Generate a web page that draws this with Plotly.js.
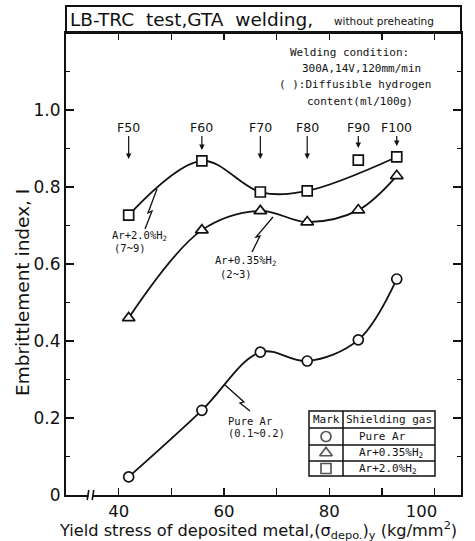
<!DOCTYPE html>
<html>
<head>
<meta charset="utf-8">
<script src="https://cdn.plot.ly/plotly-3.0.1.min.js"></script>
<style>html,body{margin:0;padding:0;background:#fff;}#chart{width:475px;height:541px;}</style>
</head>
<body>
<div id="chart"></div>
<script>
// ---- data ----
const gradeLabels = ["F50", "F60", "F70", "F80", "F90", "F100"];
const yieldStress = [41.9, 55.8, 66.9, 75.8, 85.5, 92.8];
const pureAr = [0.047, 0.220, 0.371, 0.348, 0.403, 0.561];
const ar035H2 = [0.460, 0.688, 0.738, 0.709, 0.740, 0.829];
const ar20H2 = [0.727, 0.868, 0.787, 0.790, 0.870, 0.878];
const ar20OnCurve = [true, true, true, true, false, true];
const gasNames = ["Pure Ar", "Ar+0.35%H<sub>2</sub>", "Ar+2.0%H<sub>2</sub>"];
const xTickVals = [40, 60, 80, 100];
const xTickText = ["40", "60", "80", "100\u00a0\u00a0\u00a0\u00a0\u00a0"];
const yTickVals = [0, 0.2, 0.4, 0.6, 0.8, 1.0];
const yTickText = ["0", "0.2", "0.4", "0.6", "0.8", "1.0"];

// ---- geometry helpers (pixel -> data / paper) ----
const W = 475, H = 541, L = 66, R = 461, T = 33, B = 495;
const X0 = 30, X1 = 105, Y0 = 0, Y1 = 1.2;
const px2x = p => X0 + (p - L) / (R - L) * (X1 - X0);
const py2y = p => Y0 + (B - p) / (B - T) * (Y1 - Y0);
const px2p = p => (p - L) / (R - L);
const py2p = p => (B - p) / (B - T);

const mono = "DejaVu Sans Mono";
const sans = "DejaVu Sans";
const black = "#111";

function lineTrace(xs, ys) {
  return {x: xs, y: ys, mode: "lines", type: "scatter", line: {shape: "spline", smoothing: 1, color: black, width: 1.8}, hoverinfo: "skip", showlegend: false};
}
function markerTrace(xs, ys, sym, size) {
  return {x: xs, y: ys, mode: "markers", type: "scatter", marker: {symbol: sym, size: size, color: "#fff", line: {color: black, width: 1.7}}, showlegend: false};
}
const x20 = yieldStress.filter((v, i) => ar20OnCurve[i]);
const y20 = ar20H2.filter((v, i) => ar20OnCurve[i]);

// legend table symbols
const legSymX = [px2x(326), px2x(326), px2x(326)];
const legSymY = [py2y(436.5), py2y(453), py2y(468.5)];

const traces = [
  lineTrace(yieldStress, pureAr),
  lineTrace(yieldStress, ar035H2),
  lineTrace(x20, y20),
  markerTrace(yieldStress, pureAr, "circle", 10),
  markerTrace(yieldStress, ar035H2, "triangle-up", 11),
  markerTrace(yieldStress, ar20H2, "square", 10),
  {x: legSymX, y: legSymY, mode: "markers", type: "scatter", cliponaxis: false,
   marker: {symbol: ["circle", "triangle-up", "square"], size: [10, 11, 10], color: "#fff", line: {color: black, width: 1.7}}, showlegend: false, hoverinfo: "skip"}
];

const shapes = [];
// title box
shapes.push({type: "rect", xref: "paper", yref: "paper", x0: 0, x1: 1, y0: 1, y1: py2p(6), line: {color: black, width: 2}});
// legend table
const tl = 309, tr = 435, tc = 343, rows = [411, 428, 445, 461, 476];
shapes.push({type: "rect", xref: "x", yref: "y", x0: px2x(tl), x1: px2x(tr), y0: py2y(rows[0]), y1: py2y(rows[4]), fillcolor: "#fff", line: {color: black, width: 1.5}, layer: "below"});
shapes.push({type: "line", xref: "x", yref: "y", x0: px2x(tc), x1: px2x(tc), y0: py2y(rows[0]), y1: py2y(rows[4]), line: {color: black, width: 1.5}});
for (let i = 1; i < 4; i++) {
  shapes.push({type: "line", xref: "x", yref: "y", x0: px2x(tl), x1: px2x(tr), y0: py2y(rows[i]), y1: py2y(rows[i]), line: {color: black, width: 1.5}});
}
// leader lines (lightning style)
function pathFrom(pts) {
  return pts.map((p, i) => (i ? "L" : "M") + px2x(p[0]).toFixed(3) + "," + py2y(p[1]).toFixed(4)).join(" ");
}
[
  [[145, 229], [152, 211], [148, 213], [157, 189]],
  [[252, 252], [260, 236], [256, 237], [273, 217]],
  [[225, 385], [244, 402], [240, 403], [250, 411]]
].forEach(pts => shapes.push({type: "path", xref: "x", yref: "y", path: pathFrom(pts), line: {color: black, width: 1.3}}));
// axis break on x axis
shapes.push({type: "rect", xref: "paper", yref: "paper", x0: px2p(88.5), x1: px2p(92.5), y0: py2p(498), y1: py2p(492), fillcolor: "#fff", line: {width: 0}, layer: "above"});
[88, 93].forEach(p => shapes.push({type: "line", xref: "paper", yref: "paper", x0: px2p(p - 0.8), x1: px2p(p + 0.8), y0: py2p(500), y1: py2p(490), line: {color: black, width: 1.6}}));

const annotations = [];
// title
annotations.push({xref: "paper", yref: "paper", x: px2p(68), y: py2p(19.5), xanchor: "left", yanchor: "middle", showarrow: false,
  text: "LB-TRC\u00a0 test,GTA\u00a0 welding,", font: {family: sans, size: 18.5, color: black}});
annotations.push({xref: "paper", yref: "paper", x: px2p(332), y: py2p(21), xanchor: "left", yanchor: "middle", showarrow: false,
  text: "without preheating", font: {family: sans, size: 10.5, color: black}});
// axis titles
annotations.push({xref: "paper", yref: "paper", x: px2p(22), y: py2p(293), xanchor: "center", yanchor: "middle", showarrow: false, textangle: -90,
  text: "Embrittlement index, I", font: {family: sans, size: 18.5, color: black}});
annotations.push({xref: "paper", yref: "paper", x: px2p(258), y: py2p(529.5), xanchor: "center", yanchor: "middle", showarrow: false,
  text: "Yield stress of deposited metal,(σ<sub>depo.</sub>)<sub>y</sub> (kg/mm<sup>2</sup>)", font: {family: sans, size: 16.2, color: black}});
// welding condition block
[["Welding condition:", 288, 52], ["300A,14V,120mm/min", 300, 68], ["( ):Diffusible hydrogen", 277, 85], ["content(ml/100g)", 305, 101]].forEach(t =>
  annotations.push({xref: "paper", yref: "paper", x: px2p(t[1]), y: py2p(t[2]), xanchor: "left", yanchor: "middle", showarrow: false,
    text: t[0], font: {family: mono, size: 11, color: black}}));
// grade labels with arrows
const arrowTips = [159, 150, 159, 159, 148, 146];
gradeLabels.forEach((g, i) => {
  annotations.push({x: yieldStress[i], y: py2y(arrowTips[i]), xref: "x", yref: "y", text: g, showarrow: true,
    ax: 0, ay: -(arrowTips[i] - 127), arrowhead: 2, arrowsize: 0.9, arrowwidth: 1.2, arrowcolor: black, standoff: 0,
    font: {family: sans, size: 12.5, color: black}});
});
// curve labels
[["Ar+2.0%H<sub>2</sub>", 110, 236], ["(7~9)", 112, 248],
 ["Ar+0.35%H<sub>2</sub>", 213, 261], ["(2~3)", 218, 274],
 ["Pure Ar", 226, 421], ["(0.1~0.2)", 226, 433]].forEach(t =>
  annotations.push({xref: "x", yref: "y", x: px2x(t[1]), y: py2y(t[2]), xanchor: "left", yanchor: "middle", showarrow: false,
    text: t[0], font: {family: mono, size: 10.5, color: black}}));
// legend table text
annotations.push({xref: "x", yref: "y", x: px2x(326), y: py2y(419.5), showarrow: false, text: "Mark", font: {family: mono, size: 11, color: black}});
annotations.push({xref: "x", yref: "y", x: px2x(389), y: py2y(419.5), showarrow: false, text: "Shielding gas", font: {family: mono, size: 11, color: black}});
const legRowY = [436.5, 453, 468.5];
gasNames.forEach((g, i) => annotations.push({xref: "x", yref: "y", x: px2x(357), y: py2y(legRowY[i]), xanchor: "left", showarrow: false,
  text: g, font: {family: mono, size: 11, color: black}}));

const layout = {
  width: W, height: H,
  margin: {l: L, r: W - R, t: T, b: H - B, pad: 0},
  paper_bgcolor: "#fff", plot_bgcolor: "#fff",
  showlegend: false,
  xaxis: {
    range: [X0, X1], showgrid: false, zeroline: false,
    showline: true, linecolor: black, linewidth: 2, mirror: "ticks",
    ticks: "inside", ticklen: 7, tickwidth: 1.5, tickcolor: black,
    tickmode: "array", tickvals: xTickVals, ticktext: xTickText,
    minor: {tickmode: "array", tickvals: [50, 70, 90], ticks: "inside", ticklen: 7, tickwidth: 1.5, tickcolor: black},
    tickfont: {family: sans, size: 16.5, color: black},
    automargin: false
  },
  yaxis: {
    range: [Y0, Y1], showgrid: false, zeroline: false,
    showline: true, linecolor: black, linewidth: 2, mirror: "ticks",
    ticks: "inside", ticklen: 8, tickwidth: 1.5, tickcolor: black,
    tickmode: "array", tickvals: yTickVals, ticktext: yTickText,
    minor: {dtick: 0.1, ticks: "inside", ticklen: 4, tickwidth: 1.5, tickcolor: black},
    tickfont: {family: sans, size: 17, color: black},
    automargin: false
  },
  shapes: shapes,
  annotations: annotations
};

Plotly.newPlot("chart", traces, layout, {staticPlot: true, displayModeBar: false});
</script>
</body>
</html>
